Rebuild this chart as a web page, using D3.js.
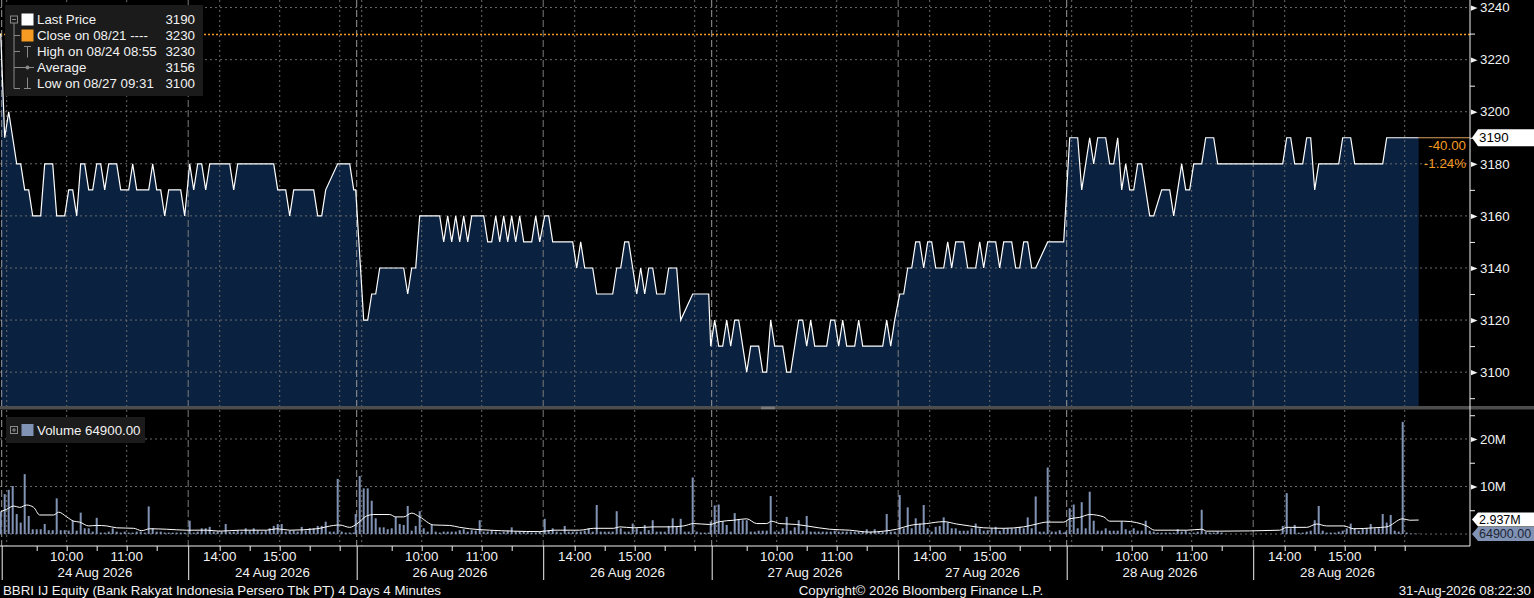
<!DOCTYPE html>
<html>
<head>
<meta charset="utf-8">
<script src="https://cdn.jsdelivr.net/npm/d3@7"></script>
<style>
  body { margin: 0; background: #000; }
  svg { display: block; }
</style>
</head>
<body>
<div id="container"></div>
<script>
/* DATA */
const dayLabels = ["24 Aug 2026", "26 Aug 2026", "27 Aug 2026", "28 Aug 2026"];
const hourLabels = ["10:00", "11:00", "14:00", "15:00"];
const gridHours = ["09:00", "10:00", "11:00", "14:00", "15:00", "16:00"];
const halfHourTicks = ["09:30", "10:00", "10:30", "11:00", "11:30", "14:00", "14:30", "15:00", "15:30", "16:00"];
const priceTicks = [3100, 3120, 3140, 3160, 3180, 3200, 3220, 3240];
const priceMinorTicks = [3090, 3110, 3130, 3150, 3170, 3190, 3210, 3230];
const volTicks = [10, 20];
const volMinorTicks = [5, 15, 25];

// 4-minute bars, one array per session (null = no trade in that bar)
const sessionDay = [0, 0, 1, 1, 2, 2, 3, 3];
const sessionStart = ["08:54", "13:30", "08:54", "13:30", "08:54", "13:30", "08:54", "13:58"];

const price24am = [3230,3190,3200,3190,3180,3180,3170,3170,3160,3160,3160,3180,3180,3180,3160,3160,3160,3170,3170,3160,3180,3180,3170,3170,3180,3180,3170,3180,3180,3180,3170,3170,3170,3180,3170,3170,3170,3170,3180,3170,3170,3160,3170,3170,3170,3170,3160];
const price24pm = [3180,3170,3180,3180,3170,3180,3180,3180,3180,3180,3180,3170,3180,3180,3180,3180,3180,3180,3180,3180,3180,3180,3170,3170,3170,3160,3170,3170,3170,3170,3170,3170,3160,3160,3170,null,null,3180,3180,3180,3180,3170];
const price26am = [3170,null,3120,3120,3130,3130,3140,3140,3140,3140,3140,3140,3140,3130,3140,3140,3160,3160,3160,3160,3160,3160,3150,3160,3150,3160,3150,3160,3150,3160,3160,3160,3160,3150,3150,3160,3150,3160,3150,3160,3150,3160,3150,3150,3150,3160,3150];
const price26pm = [3160,3160,3150,3150,3150,3150,3150,3150,3140,3150,3140,3140,3140,3130,3130,3130,3130,3130,3140,3140,3150,3150,3140,3130,3140,3130,3140,3140,3130,3130,3130,3140,3140,3140,3120,null,null,3130,3130,3130,3130,3130];
const price27am = [3110,3120,3110,3110,3120,3110,3120,3120,null,3100,3110,3110,3110,3100,3100,3120,3110,3110,3110,3100,3100,null,3120,3120,3110,3120,3110,3110,3110,3110,3120,3120,3110,3120,3110,3110,3110,3120,3110,3110,3110,3110,3110,3110,3120,3110,3120];
const price27pm = [3130,3130,3140,3140,3150,3150,3140,3150,3150,3140,3140,3140,3150,3140,3150,3150,3150,3140,3140,3140,3150,3140,3150,3150,3150,3140,3150,3150,3150,3140,3140,3150,3150,3140,3140,null,null,3150,3150,3150,3150,3150];
const price28am = [null,3190,3190,3190,3170,null,3190,3180,3190,3190,3190,3180,3180,3190,3170,3180,3170,3170,3180,3180,null,3160,3160,null,3170,3170,3170,3160,null,3180,3170,3170,3180,3180,3180,3190,3190,3190,3180,3180];
const price28pm = [3180,3190,3190,3180,3180,3180,3190,3190,3170,3180,3180,3180,3180,3180,3180,3190,3190,3190,3180,3180,3180,3180,3180,3180,3180,3180,3190,3190,3190,3190,3190,3190,3190,3190,3190];

// volume in millions of shares
const vol24am = [4.7,8.4,9.3,10.1,4.2,2.4,12.6,3.8,1.0,1.0,1.0,2.1,0.8,0.8,7.5,0.8,0.8,0.7,2.8,0.7,4.5,1.2,1.2,0.5,3.4,0.3,0.3,0.5,1.2,0.5,0.3,0.5,0.3,0.3,0.5,0.5,0.3,5.8,1.2,0.5,0.5,0.3,0.3,0.3,0.3,0.3,0.3];
const vol24pm = [2.8,0.3,0.5,1.2,1.2,1.5,0.5,0.5,0.5,2.1,0.5,0.5,0.7,0.5,1.2,0.7,1.2,0.7,0.5,0.7,1.2,1.7,2.1,2.1,0.5,0.7,0.7,0.5,1.5,0.7,1.2,1.2,1.7,1.7,2.6,0.5,0.5,11.6,0.5,0.3,0.3,0.3];
const vol26am = [4.2,12.2,9.6,9.6,7.0,3.3,1.4,1.4,1.0,1.2,3.6,2.1,1.9,5.9,0.7,1.7,4.8,1.2,0.5,1.9,0.5,0.3,0.5,0.5,0.5,0.5,0.8,1.0,0.5,0.8,0.7,2.9,0.5,0.5,0.7,0.5,0.3,0.5,0.7,1.4,0.5,0.5,0.5,0.5,0.3,0.3,0.5];
const vol26pm = [3.2,0.8,1.2,0.5,0.3,1.7,0.5,0.5,0.5,0.5,0.7,1.2,0.5,6.1,0.5,0.5,0.5,0.5,4.8,1.2,0.5,0.5,2.2,1.2,0.5,1.9,0.8,2.9,0.5,0.5,0.5,1.7,3.3,1.7,3.2,0.5,0.5,11.9,0.5,0.3,0.3,0.3];
const vol27am = [2.6,6.0,6.2,2.6,1.9,0.5,4.4,3.1,2.9,2.9,0.5,0.5,0.7,0.7,0.7,8.0,0.5,0.5,1.2,3.6,0.7,1.4,2.9,0.7,3.8,0.5,0.5,0.5,0.5,0.5,0.5,0.7,0.5,0.5,0.5,0.5,0.5,0.5,0.5,1.0,0.5,1.0,0.5,0.5,4.2,0.5,0.5];
const vol27pm = [8.2,1.2,5.6,1.2,3.3,2.2,6.1,1.2,0.5,1.5,1.7,3.5,2.4,1.2,1.2,0.7,0.7,0.7,1.2,2.2,1.2,0.7,0.8,1.2,1.5,0.7,1.2,1.2,1.2,1.2,1.5,1.2,3.5,1.2,7.9,0.5,0.5,14.0,0.5,0.5,0.8,0.3];
const vol28am = [0.5,5.4,6.2,1.2,6.7,1.2,8.9,2.8,0.7,0.7,1.2,0.7,0.7,0.7,2.6,1.0,0.7,1.2,0.7,0.7,2.8,0.7,0.5,0.3,0.3,0.3,0.3,0.3,1.0,0.5,0.7,0.3,0.3,0.5,5.1,0.5,0.3,0.3,0.5,0.3];
const vol28pm = [1.7,8.6,1.2,1.9,0.3,0.3,0.5,0.7,2.9,5.9,0.7,0.3,0.3,0.3,0.5,0.7,1.2,2.2,1.2,0.7,1.2,1.2,2.1,1.2,1.2,4.2,2.4,4.0,0.7,0.5,23.6,0.3,0.1,0.1,0.0649];

// volume average line (axis minutes, millions)
const maMinute = [-1,5,12,18,25,32,38,52,57,65,72,78,87,95,105,115,132,140,148,165,185,205,218,238,265,275,288,315,332,338,348,355,365,372,388,394,402,410,418,432,448,458,468,488,512,538,552,578,592,612,618,632,652,668,682,692,708,718,732,745,755,765,770,778,795,805,828,848,868,882,895,908,925,942,955,968,982,1002,1022,1035,1045,1062,1068,1078,1088,1102,1108,1122,1135,1145,1153,1185,1200,1205,1218,1278,1285,1305,1315,1325,1342,1352,1372,1385,1401,1408,1417];
const maValue = [4.7,5.2,5.9,5.6,6.1,5.6,4.0,4.0,4.6,3.6,2.7,2.5,1.7,1.8,1.7,1.3,1.2,0.7,1.1,1.0,0.8,0.8,0.6,0.8,0.8,1.1,0.8,1.1,1.8,1.9,1.4,2.1,3.8,4.1,4.1,3.6,3.6,4.4,3.6,1.9,1.8,1.4,1.1,0.8,0.6,0.5,0.8,0.8,1.2,1.2,1.5,1.3,1.5,1.5,1.7,2.2,2.0,2.6,2.9,3.2,2.2,2.2,2.7,2.2,2.0,1.7,1.0,0.8,0.4,0.6,1.0,1.8,2.2,2.6,2.1,1.7,1.3,1.2,1.5,2.1,2.5,2.5,3.2,3.5,4.1,3.6,2.7,2.7,2.4,1.7,0.8,0.8,1.0,0.6,0.6,0.8,1.4,1.4,2.1,1.7,1.7,1.1,1.3,1.5,3.2,2.9,2.937];

const legendRows = [
  { label: "Last Price", value: "3190" },
  { label: "Close on 08/21 ----", value: "3230" },
  { label: "High on 08/24 08:55", value: "3230" },
  { label: "Average", value: "3156" },
  { label: "Low on 08/27 09:31", value: "3100" }
];
const lastPrice = 3190, prevClose = 3230;
const netChange = "-40.00", pctChange = "-1.24%";
const lastVolume = "64900.00", lastVolAvg = "2.937M";

/* CONSTANTS AND GLOBALS */
const width = 1534, height = 598;
const plotRight = 1470, priceBottom = 406, volTop = 410, axisY = 546;
const daySpan = 355, lunchBreak = 186.5;
const font = "'Liberation Sans', Arial, sans-serif";
const fontSize = "13.3px";
const white = "#f2f2f2", grid = "#6a6a6a", orange = "#f59a23";
const navy = "#0a2140", volBlue = "#8193b4";

// compressed intraday time: minutes from 08:55, lunch squeezed to 3 minutes, 355 per day
function axisMinute(day, clock) {
  const [h, m] = clock.split(":").map(Number);
  const t = h * 60 + m;
  const inDay = t <= 12 * 60 ? t - (8 * 60 + 55) : 188 + t - (13 * 60 + 30);
  return day * daySpan + inDay;
}

const priceSeries = [price24am, price24pm, price26am, price26pm, price27am, price27pm, price28am, price28pm];
const volSeries = [vol24am, vol24pm, vol26am, vol26pm, vol27am, vol27pm, vol28am, vol28pm];

const bars = sessionStart.flatMap((s, i) => {
  const t0 = axisMinute(sessionDay[i], s);
  return priceSeries[i].map((p, k) => ({ t: t0 + 4 * k, price: p, volume: volSeries[i][k] }));
});
const traded = bars.filter(d => d.price !== null);
const maData = maMinute.map((m, i) => ({ t: m, v: maValue[i] }));

// SCALES
const xScale = d3.scaleLinear().domain([0, 1468]).range([1.7, 1469.7]);
const yPrice = d3.scaleLinear().domain([3087, 3242.9]).range([priceBottom, 0]);
const yVol = d3.scaleLinear().domain([0, 26.1]).range([534, volTop]);

// CREATE SVG ELEMENT
const svg = d3.select("#container")
  .append("svg")
  .attr("width", width)
  .attr("height", height)
  .style("background-color", "#000")
  .style("font-family", font)
  .style("font-size", fontSize);

svg.append("defs").append("clipPath").attr("id", "priceClip")
  .append("rect").attr("x", 0).attr("y", 0).attr("width", plotRight).attr("height", priceBottom);

// PRICE AREA
const area = d3.area()
  .x(d => xScale(d.t))
  .y0(priceBottom)
  .y1(d => yPrice(d.price));

svg.append("path")
  .datum(traded)
  .attr("clip-path", "url(#priceClip)")
  .attr("d", area)
  .attr("fill", navy);

// GRIDLINES
const hGrid = svg.append("g").attr("stroke", grid).attr("stroke-dasharray", "2,3");
hGrid.selectAll("line.p")
  .data(priceTicks)
  .join("line")
  .attr("class", "p")
  .attr("x1", 0).attr("x2", plotRight)
  .attr("y1", d => yPrice(d)).attr("y2", d => yPrice(d));
hGrid.selectAll("line.v")
  .data([0].concat(volTicks))
  .join("line")
  .attr("class", "v")
  .attr("x1", 0).attr("x2", plotRight)
  .attr("y1", d => yVol(d)).attr("y2", d => yVol(d));

const hourMinutes = d3.range(4).flatMap(d => gridHours.map(h => axisMinute(d, h)));
svg.append("g")
  .attr("stroke", grid)
  .attr("stroke-dasharray", "2,3")
  .selectAll("line")
  .data(hourMinutes)
  .join("line")
  .attr("x1", d => xScale(d)).attr("x2", d => xScale(d))
  .attr("y1", 0).attr("y2", axisY);

const breakMinutes = d3.range(4).flatMap(d => [d * daySpan, d * daySpan + lunchBreak]);
svg.append("g")
  .selectAll("line")
  .data(breakMinutes)
  .join("line")
  .attr("x1", d => xScale(d)).attr("x2", d => xScale(d))
  .attr("y1", 0).attr("y2", axisY)
  .attr("stroke", (d, i) => i % 2 === 0 ? "#9a9a9a" : "#7a7a7a")
  .attr("stroke-dasharray", "7,3");

// PREVIOUS CLOSE LINE
const closeY = Math.round(yPrice(prevClose)) + 0.5;
svg.append("line")
  .attr("x1", 0).attr("x2", plotRight)
  .attr("y1", closeY).attr("y2", closeY)
  .attr("stroke", orange)
  .attr("stroke-width", 1.6)
  .attr("stroke-dasharray", "2,2");

// PRICE LINE
const line = d3.line()
  .x(d => xScale(d.t))
  .y(d => yPrice(d.price));

svg.append("path")
  .datum(traded)
  .attr("clip-path", "url(#priceClip)")
  .attr("d", line)
  .attr("fill", "none")
  .attr("stroke", "#ffffff")
  .attr("stroke-width", 1.2);

const lastBar = traded[traded.length - 1];
svg.append("line")
  .attr("x1", xScale(lastBar.t)).attr("x2", plotRight)
  .attr("y1", yPrice(lastPrice)).attr("y2", yPrice(lastPrice))
  .attr("stroke", "#d9a25a")
  .attr("stroke-width", 1);

// VOLUME BARS
svg.append("g")
  .selectAll("rect")
  .data(bars)
  .join("rect")
  .attr("x", d => xScale(d.t) - 1)
  .attr("width", 2)
  .attr("y", d => yVol(d.volume))
  .attr("height", d => yVol(0) - yVol(d.volume))
  .attr("fill", volBlue);

svg.append("path")
  .datum(maData)
  .attr("d", d3.line().x(d => xScale(d.t)).y(d => yVol(d.v)).curve(d3.curveMonotoneX))
  .attr("fill", "none")
  .attr("stroke", "#ffffff")
  .attr("stroke-width", 1);

// PANEL SEPARATOR
svg.append("rect")
  .attr("x", 0).attr("y", priceBottom)
  .attr("width", width).attr("height", 3.5)
  .attr("fill", "#4d4d4d");
[407.2, 408.7].forEach(y => {
  svg.append("line")
    .attr("x1", 761).attr("x2", 775)
    .attr("y1", y).attr("y2", y)
    .attr("stroke", "#9a9a9a")
    .attr("stroke-width", 0.8);
});

// BUILD AND CALL AXES
svg.append("line")
  .attr("x1", plotRight).attr("x2", plotRight)
  .attr("y1", 0).attr("y2", axisY)
  .attr("stroke", white);
svg.append("line")
  .attr("x1", 0).attr("x2", plotRight)
  .attr("y1", axisY).attr("y2", axisY)
  .attr("stroke", white);

const halfMinutes = d3.range(4).flatMap(d => halfHourTicks.map(h => axisMinute(d, h)));
svg.append("g")
  .attr("transform", `translate(0, ${axisY})`)
  .call(d3.axisBottom(xScale).tickValues(halfMinutes).tickSize(5).tickFormat(""))
  .call(g => g.select(".domain").remove())
  .call(g => g.selectAll("line").attr("stroke", white));

svg.append("g")
  .attr("transform", `translate(0, ${axisY})`)
  .call(d3.axisBottom(xScale).tickValues(breakMinutes).tickSize(34).tickFormat(""))
  .call(g => g.select(".domain").remove())
  .call(g => g.selectAll("line").attr("stroke", white));

// hour and date labels
const hourData = d3.range(4).flatMap(d => hourLabels.map(h => ({ t: axisMinute(d, h), label: h })));
svg.append("g")
  .selectAll("text")
  .data(hourData)
  .join("text")
  .attr("x", d => xScale(d.t))
  .attr("y", 561)
  .attr("text-anchor", "middle")
  .attr("fill", white)
  .text(d => d.label);

const sessionLabels = d3.range(4).flatMap(d => [
  { t: d * daySpan + lunchBreak / 2, label: dayLabels[d] },
  { t: d * daySpan + (lunchBreak + daySpan) / 2, label: dayLabels[d] }
]);
svg.append("g")
  .selectAll("text")
  .data(sessionLabels)
  .join("text")
  .attr("x", d => xScale(d.t))
  .attr("y", 577)
  .attr("text-anchor", "middle")
  .attr("fill", white)
  .text(d => d.label);

// right price axis
const tri = "M1,-2.6L7.5,0L1,2.6Z";
svg.append("g")
  .attr("transform", `translate(${plotRight}, 0)`)
  .call(d3.axisRight(yPrice).tickValues(priceTicks).tickSize(0).tickPadding(10).tickFormat(d3.format("d")))
  .call(g => g.select(".domain").remove())
  .call(g => g.selectAll("text").attr("fill", white).style("font-size", fontSize).style("font-family", font))
  .call(g => g.selectAll(".tick").append("path").attr("d", tri).attr("fill", white));

svg.append("g")
  .attr("transform", `translate(${plotRight}, 0)`)
  .call(d3.axisRight(yPrice).tickValues(priceMinorTicks).tickSize(5).tickFormat(""))
  .call(g => g.select(".domain").remove())
  .call(g => g.selectAll("line").attr("stroke", white));

// right volume axis
svg.append("g")
  .attr("transform", `translate(${plotRight}, 0)`)
  .call(d3.axisRight(yVol).tickValues(volTicks).tickSize(0).tickPadding(10).tickFormat(d => d + "M"))
  .call(g => g.select(".domain").remove())
  .call(g => g.selectAll("text").attr("fill", white).style("font-size", fontSize).style("font-family", font))
  .call(g => g.selectAll(".tick").append("path").attr("d", tri).attr("fill", white));

svg.append("g")
  .attr("transform", `translate(${plotRight}, 0)`)
  .call(d3.axisRight(yVol).tickValues(volMinorTicks).tickSize(5).tickFormat(""))
  .call(g => g.select(".domain").remove())
  .call(g => g.selectAll("line").attr("stroke", white));

// VALUE TAGS
function tag(yc, h, fill, textFill, label, size) {
  const x0 = plotRight + 2, x1 = plotRight + 8;
  svg.append("path")
    .attr("d", `M${x0},${yc}L${x1},${yc - h / 2}L${width},${yc - h / 2}L${width},${yc + h / 2}L${x1},${yc + h / 2}Z`)
    .attr("fill", fill);
  svg.append("text")
    .attr("x", plotRight + 9)
    .attr("y", yc + 4.3)
    .attr("fill", textFill)
    .style("font-size", size)
    .text(label);
}
tag(yPrice(lastPrice), 17, "#ffffff", "#000", String(lastPrice), fontSize);
tag(yVol(2.937) - 0.5, 14, "#ffffff", "#000", lastVolAvg, "12.5px");
tag(yVol(0), 14, volBlue, "#1c2536", lastVolume, "12.5px");

svg.append("text")
  .attr("x", 1466).attr("y", 150)
  .attr("text-anchor", "end")
  .attr("fill", orange)
  .text(netChange);
svg.append("text")
  .attr("x", 1466).attr("y", 167.5)
  .attr("text-anchor", "end")
  .attr("fill", orange)
  .text(pctChange);

// LEGEND
const legend = svg.append("g");
legend.append("rect")
  .attr("x", 5).attr("y", 5)
  .attr("width", 198).attr("height", 91)
  .attr("fill", "#1b1b1b");

const rowY = legendRows.map((d, i) => 19.5 + i * 16);
const treeColor = "#8a8a8a";
legend.append("rect")
  .attr("x", 10.5).attr("y", 16).attr("width", 7).attr("height", 7)
  .attr("fill", "none").attr("stroke", treeColor);
legend.append("line")
  .attr("x1", 12).attr("x2", 16).attr("y1", 19.5).attr("y2", 19.5)
  .attr("stroke", treeColor);
legend.append("line")
  .attr("x1", 14).attr("x2", 14).attr("y1", 23).attr("y2", rowY[4] + 5)
  .attr("stroke", treeColor);
rowY.slice(1).forEach(y => {
  legend.append("line")
    .attr("x1", 14).attr("x2", 20).attr("y1", y + (y === rowY[4] ? 5 : 0)).attr("y2", y + (y === rowY[4] ? 5 : 0))
    .attr("stroke", treeColor);
});
legend.append("rect")
  .attr("x", 21.5).attr("y", rowY[0] - 6).attr("width", 12).attr("height", 12)
  .attr("fill", "#ffffff");
legend.append("rect")
  .attr("x", 21.5).attr("y", rowY[1] - 6).attr("width", 12).attr("height", 12)
  .attr("fill", orange);
// high marker
legend.append("path")
  .attr("d", `M24,${rowY[2] - 5}H31M27.5,${rowY[2] - 5}V${rowY[2] + 6}`)
  .attr("stroke", treeColor).attr("fill", "none");
// average marker
legend.append("line")
  .attr("x1", 20).attr("x2", 34).attr("y1", rowY[3]).attr("y2", rowY[3])
  .attr("stroke", treeColor);
legend.append("circle")
  .attr("cx", 27.5).attr("cy", rowY[3]).attr("r", 2)
  .attr("fill", treeColor);
// low marker
legend.append("path")
  .attr("d", `M27.5,${rowY[4] - 6}V${rowY[4] + 5}M24,${rowY[4] + 5}H31`)
  .attr("stroke", treeColor).attr("fill", "none");

legend.selectAll("text.label")
  .data(legendRows)
  .join("text")
  .attr("class", "label")
  .attr("x", 37)
  .attr("y", (d, i) => rowY[i] + 4.5)
  .attr("fill", white)
  .text(d => d.label);
legend.selectAll("text.value")
  .data(legendRows)
  .join("text")
  .attr("class", "value")
  .attr("x", 195)
  .attr("y", (d, i) => rowY[i] + 4.5)
  .attr("text-anchor", "end")
  .attr("fill", white)
  .text(d => d.value);

// volume legend
const vLegend = svg.append("g");
vLegend.append("rect")
  .attr("x", 6).attr("y", 417)
  .attr("width", 139).attr("height", 26)
  .attr("fill", "#1b1b1b");
vLegend.append("rect")
  .attr("x", 10.5).attr("y", 426.5).attr("width", 7).attr("height", 7)
  .attr("fill", "none").attr("stroke", treeColor);
vLegend.append("path")
  .attr("d", "M12,430H16M14,428V432")
  .attr("stroke", treeColor);
vLegend.append("rect")
  .attr("x", 21.5).attr("y", 424).attr("width", 12).attr("height", 12)
  .attr("fill", volBlue);
vLegend.append("text")
  .attr("x", 37).attr("y", 435)
  .attr("fill", white)
  .text("Volume " + lastVolume);

// FOOTER TEXT
svg.append("text")
  .attr("x", 3).attr("y", 594.5)
  .attr("fill", white)
  .text("BBRI IJ Equity (Bank Rakyat Indonesia Persero Tbk PT) 4 Days 4 Minutes");
svg.append("text")
  .attr("x", 921).attr("y", 594.5)
  .attr("text-anchor", "middle")
  .attr("fill", white)
  .text("Copyright\u00a9 2026 Bloomberg Finance L.P.");
svg.append("text")
  .attr("x", 1531).attr("y", 594.5)
  .attr("text-anchor", "end")
  .attr("fill", white)
  .text("31-Aug-2026 08:22:30");
</script>
</body>
</html>
